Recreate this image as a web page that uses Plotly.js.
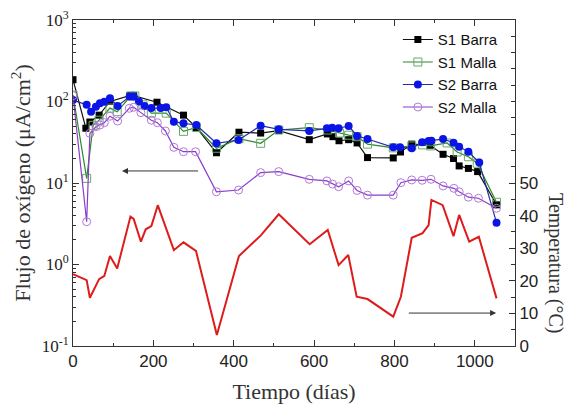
<!DOCTYPE html>
<html><head><meta charset="utf-8">
<script src="https://cdn.plot.ly/plotly-3.0.1.min.js"></script>
<style>html,body{margin:0;padding:0;background:#fff}#chart{width:573px;height:406px}</style>
</head><body><div id="chart"></div>
<script>
// Days and values
const s1BarraDays = [0, 32, 42, 65, 92, 141, 151, 209, 275, 307, 357, 413, 467, 512, 588, 633, 647, 662, 686, 707, 733, 797, 815, 843, 888, 921, 947, 961, 984, 1007, 1054];
const s1BarraVals = [185, 47, 56, 68, 100, 118, 118, 98, 68, 48, 23.5, 42, 41, 44, 34, 40, 37, 33, 34, 31, 20.5, 20.3, 24, 30, 29, 22.5, 20, 16.2, 15.1, 13.8, 5.4];

const s1MallaDays = [0, 34, 50, 65, 92, 110, 144, 154, 174, 195, 232, 275, 307, 357, 413, 467, 512, 588, 634, 663, 686, 707, 733, 797, 843, 870, 890, 931, 956, 984, 1006, 1054];
const s1MallaVals = [120, 11.4, 51, 59, 83, 75, 117, 117, 91, 72, 72, 43, 48, 26.7, 35, 30.7, 44.7, 47.7, 44.7, 41, 38.6, 37, 30, 27, 28.5, 29.4, 28.5, 31, 24, 21, 17.5, 5.8];

const s2BarraDays = [0, 34, 45, 57, 67, 78, 92, 111, 141, 151, 164, 178, 195, 218, 232, 251, 275, 307, 357, 412, 467, 512, 588, 632, 645, 661, 686, 707, 733, 797, 814, 843, 869, 885, 892, 921, 947, 961, 984, 1011, 1054];
const s2BarraVals = [104, 91, 75, 86, 95, 99, 110, 88, 115, 115, 100, 88, 83, 83, 85, 56.5, 54, 51.5, 30.7, 33.7, 50.5, 45.6, 43.5, 47, 47.7, 47, 50, 37.8, 34.7, 27.4, 27.4, 26.7, 31.6, 32.7, 33, 34.7, 31.2, 27.9, 24.2, 17.8, 3.26];

const s2MallaDays = [0, 34, 42, 57, 67, 78, 92, 111, 140, 151, 169, 195, 210, 230, 251, 275, 305, 357, 412, 467, 512, 588, 632, 646, 661, 686, 707, 733, 797, 816, 843, 869, 891, 921, 948, 961, 984, 1009, 1054];
const s2MallaVals = [118, 3.35, 40.7, 49, 51.5, 55, 66, 57.5, 82.6, 85, 73, 59, 55, 43.5, 27.4, 24.2, 24.2, 7.8, 8.2, 13.4, 13.8, 11.1, 10.6, 9.7, 9.0, 10.6, 8.1, 7.1, 7.1, 10.1, 10.9, 10.8, 11.1, 9.2, 8.6, 7.8, 6.7, 6.5, 4.9];

const tempDays = [0, 34, 42, 65, 78, 92, 110, 143, 151, 169, 181, 195, 211, 251, 275, 306, 358, 413, 468, 512, 589, 634, 661, 685, 706, 733, 797, 816, 843, 870, 885, 892, 920, 947, 961, 986, 1010, 1054];
const tempVals = [22, 20.2, 14.8, 20.5, 21.5, 27.6, 23.8, 39.7, 39, 32, 35.8, 36.8, 43.2, 29.4, 31.8, 29.2, 3.4, 27.6, 34, 40.4, 31.2, 35.6, 24.8, 27.9, 15.1, 14.4, 9, 15.1, 33.2, 34.6, 37.1, 44.8, 43.2, 33.7, 40.2, 32, 33.5, 14.6];

const seriesNames = ['S1 Barra', 'S1 Malla', 'S2 Barra', 'S2 Malla'];
const fluxTickVals = [0.1, 1, 10, 100, 1000];
const fluxTickText = ['10<sup>-1</sup>', '10<sup>0</sup>', '10<sup>1</sup>', '10<sup>2</sup>', '10<sup>3</sup>'];
const tempTickVals = [0, 10, 20, 30, 40, 50];
const tempTickText = ['0', '10', '20', '30', '40', '50'];

const SERIF = '"Liberation Serif", "Times New Roman", serif';
const SANS = '"Liberation Sans", Arial, sans-serif';

const traces = [
  {x: s1BarraDays, y: s1BarraVals, name: seriesNames[0], mode: 'lines+markers',
   line: {color: '#111111', width: 1.2},
   marker: {symbol: 'square', size: 7, color: '#000000'}},
  {x: s1MallaDays, y: s1MallaVals, name: seriesNames[1], mode: 'lines+markers',
   line: {color: '#2b8a2b', width: 1.2},
   marker: {symbol: 'square-open', size: 8, color: '#6aa86a', line: {width: 1}}},
  {x: s2BarraDays, y: s2BarraVals, name: seriesNames[2], mode: 'lines+markers',
   line: {color: '#2a2aa8', width: 1.2},
   marker: {symbol: 'circle', size: 8, color: '#0a14e6'}},
  {x: s2MallaDays, y: s2MallaVals, name: seriesNames[3], mode: 'lines+markers',
   line: {color: '#8a3ccc', width: 1.2},
   marker: {symbol: 'circle-open', size: 8, color: '#b07ad8', line: {width: 1}}},
  {x: tempDays, y: tempVals, name: 'Temperatura', mode: 'lines', yaxis: 'y2',
   showlegend: false, line: {color: '#dd1c1c', width: 2}}
];

const layout = {
  width: 573, height: 406,
  margin: {l: 73, r: 58, t: 20, b: 60},
  paper_bgcolor: '#ffffff', plot_bgcolor: '#ffffff',
  showlegend: true,
  legend: {x: 0.735, y: 0.99, xanchor: 'left', yanchor: 'top',
           bgcolor: 'rgba(0,0,0,0)', font: {family: SANS, size: 15, color: '#111'},
           tracegroupgap: 0, itemwidth: 30},
  xaxis: {range: [0, 1100], dtick: 200, tick0: 0, showgrid: false, zeroline: false,
          showline: true, linecolor: '#333', linewidth: 1, mirror: 'ticks',
          ticks: 'inside', ticklen: 6, tickcolor: '#333',
          minor: {dtick: 100, ticks: 'inside', ticklen: 3, tickcolor: '#333'},
          tickfont: {family: SANS, size: 17, color: '#222'},
          title: {text: 'Tiempo (días)', font: {family: SERIF, size: 22, color: '#333'}, standoff: 13}},
  yaxis: {type: 'log', range: [-1, 3], tickvals: fluxTickVals, ticktext: fluxTickText,
          showgrid: false, zeroline: false, showline: true, linecolor: '#333', linewidth: 1,
          ticks: 'inside', ticklen: 6, tickcolor: '#333',
          minor: {ticks: 'inside', ticklen: 3, tickcolor: '#333', dtick: 'D1'},
          tickfont: {family: SERIF, size: 17, color: '#222'},
          title: {text: 'Flujo de oxígeno (μA/cm<sup>2</sup>)', font: {family: SERIF, size: 22, color: '#333'}, standoff: 4}},
  yaxis2: {overlaying: 'y', side: 'right', range: [0, 100], tickvals: tempTickVals, ticktext: tempTickText,
           showgrid: false, zeroline: false, showline: true, linecolor: '#333', linewidth: 1,
           ticks: 'inside', ticklen: 6, tickcolor: '#333',
           minor: {dtick: 5, ticks: 'inside', ticklen: 4, tickcolor: '#333'},
           tickfont: {family: SANS, size: 17, color: '#222'}},
  annotations: [
    {xref: 'x', yref: 'paper', x: 122, y: 0.537, axref: 'x', ayref: 'pixel', ax: 315, ay: 0,
     text: '', showarrow: true, arrowhead: 2, arrowsize: 1.2, arrowwidth: 1, arrowcolor: '#333', standoff: 0},
    {xref: 'x', yref: 'paper', x: 1053, y: 0.101, axref: 'x', ayref: 'pixel', ax: 832, ay: 0,
     text: '', showarrow: true, arrowhead: 2, arrowsize: 1.2, arrowwidth: 1, arrowcolor: '#333', standoff: 0},
    {xref: 'paper', yref: 'paper', x: 1.09, y: 0.255, xanchor: 'center', yanchor: 'middle',
     text: 'Temperatura (°C)', textangle: 90, showarrow: false,
     font: {family: SERIF, size: 20, color: '#333'}}
  ]
};

Plotly.newPlot('chart', traces, layout, {displayModeBar: false, staticPlot: true});
</script>
</body></html>
